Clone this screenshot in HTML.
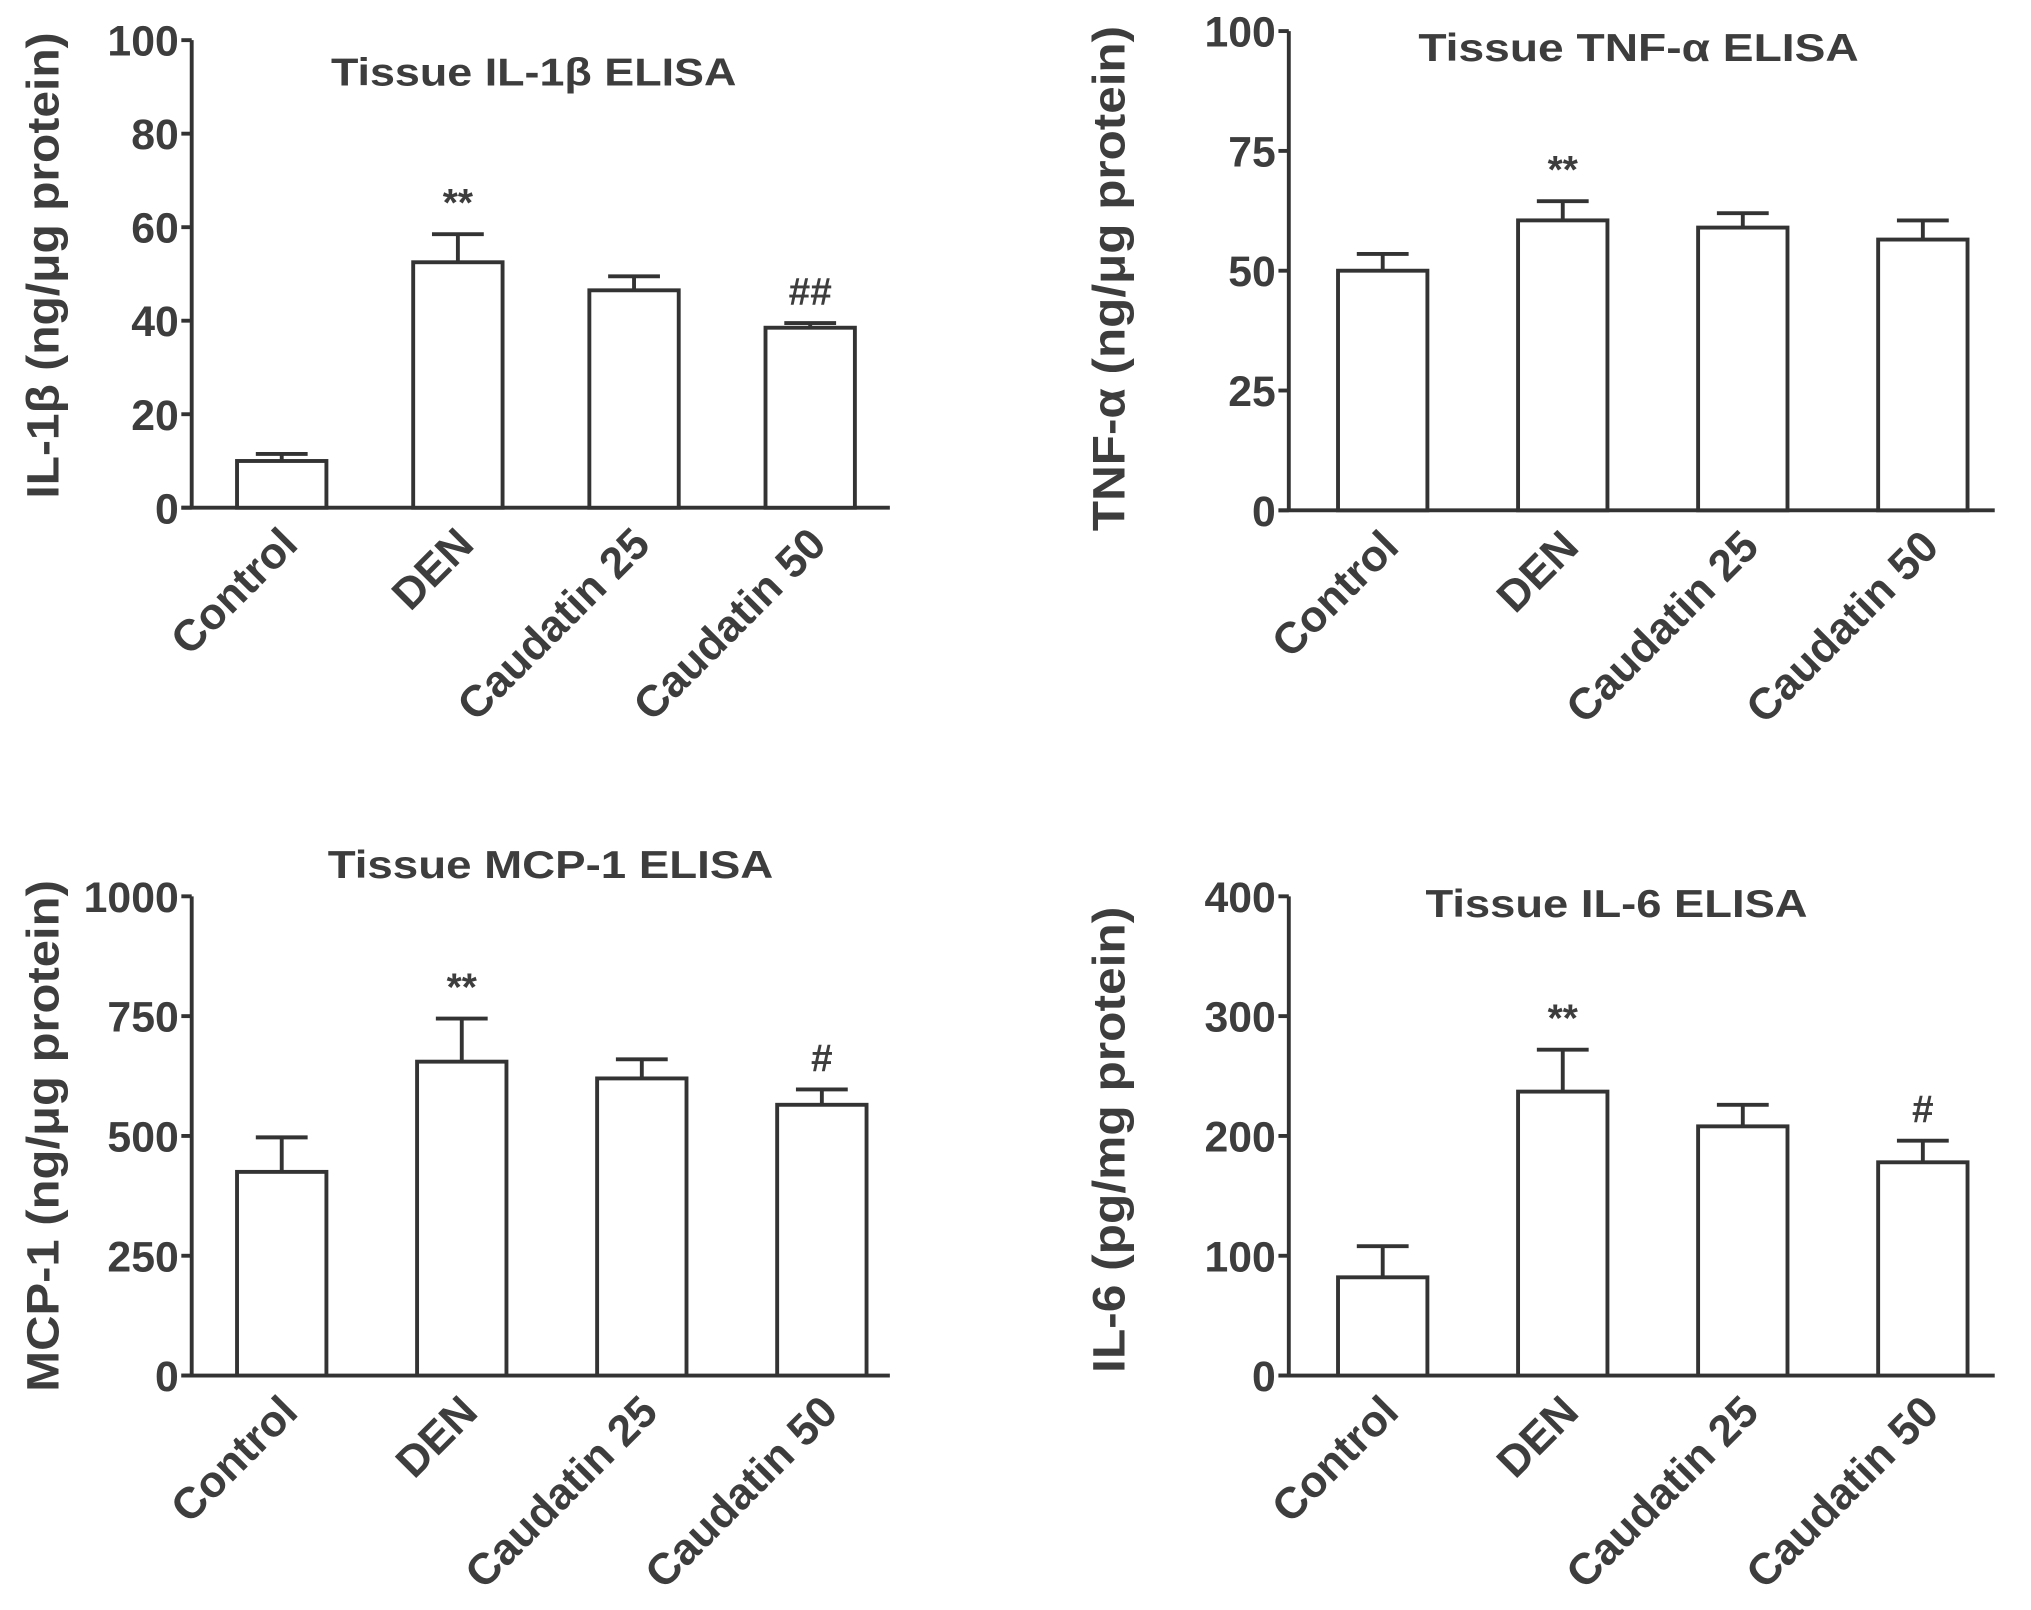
<!DOCTYPE html>
<html><head><meta charset="utf-8"><style>
html,body{margin:0;padding:0;background:#fff;}
svg{display:block;}
text{font-family:"Liberation Sans",sans-serif;fill:#3d3d3d;font-weight:bold;}
</style></head><body>
<svg id="fig" width="2031" height="1610" viewBox="0 0 1568 1243" preserveAspectRatio="none" xmlns="http://www.w3.org/2000/svg"></svg>
<script>
const categories = ["Control","DEN","Caudatin 25","Caudatin 50"];
const il1bMeans = [10, 52.5, 46.5, 38.5];
const il1bErr = [11.5, 58.5, 49.5, 39.5];
const il1bTicks = [0,20,40,60,80,100];
const il1bMarks = ["", "**", "", "##"];
const tnfMeans = [50, 60.5, 59, 56.5];
const tnfErr = [53.5, 64.5, 62, 60.5];
const tnfTicks = [0,25,50,75,100];
const tnfMarks = ["", "**", "", ""];
const mcpMeans = [425, 655, 620, 565];
const mcpErr = [497, 745, 660, 597];
const mcpTicks = [0,250,500,750,1000];
const mcpMarks = ["", "**", "", "#"];
const il6Means = [82, 237, 208, 178];
const il6Err = [108, 272, 226, 196];
const il6Ticks = [0,100,200,300,400];
const il6Marks = ["", "**", "", "#"];

const svg = document.getElementById('fig');
const NS = "http://www.w3.org/2000/svg";
function mk(tag, attrs, parent){const e=document.createElementNS(NS,tag);for(const k in attrs)e.setAttribute(k,attrs[k]);(parent||svg).appendChild(e);return e;}

function panel(cfg){
  const g = mk('g',{});
  
  
  const max = cfg.ticks[cfg.ticks.length-1];
  const y = v => cfg.y0 - (v/max)*(cfg.y0-cfg.yTop);
  const xs = i => cfg.bx0 + i*cfg.step;
  const st = {stroke:'#333','stroke-width':3,fill:'none'};
  const ya = mk('line',Object.assign({x1:cfg.ax,y1:cfg.yTop,x2:cfg.ax,y2:cfg.y0},st),g);
  
  
  const xa = mk('line',Object.assign({x1:cfg.ax-8,y1:cfg.y0,x2:cfg.xEnd,y2:cfg.y0},st),g);
  
  
  cfg.ticks.forEach(t=>{
    mk('line',Object.assign({x1:cfg.ax-8,y1:y(t),x2:cfg.ax,y2:y(t)},st),g);
    const tl = mk('text',{x:cfg.ax-10,y:y(t)+12,'text-anchor':'end','font-size':33},g);
    tl.textContent = t;
    
    
  });
  categories.forEach((c,i)=>{
    const x = xs(i), w = 69, cx = x+w/2;
    const ev = cfg.err[i];
    const el = mk('path',Object.assign({d:`M${cx} ${y(cfg.means[i])}V${y(ev)}M${cx-20} ${y(ev)}H${cx+20}`},st),g);
    
    
    const r = mk('rect',{x:x,y:y(cfg.means[i]),width:w,height:cfg.y0-y(cfg.means[i]),fill:'#fff',stroke:'#333','stroke-width':3},g);
    
    
    const ax = cx+14, ay = cfg.y0+30;
    const lt = mk('text',{x:ax,y:ay,'text-anchor':'end','font-size':34,transform:`rotate(-45 ${ax} ${ay})`},g);
    lt.textContent = c;
    
    
    if(cfg.marks[i]){
      const m = mk('text',{x:cx,y:y(ev)-14,'text-anchor':'middle','font-size':30,'font-weight':'normal'},g);
      m.textContent = cfg.marks[i];
      
      
    }
  });
  const tt = mk('text',{x:cfg.tx,y:cfg.ty,'text-anchor':'middle','font-size':30,textLength:cfg.tl,lengthAdjust:'spacingAndGlyphs','xml:space':'preserve'},g);
  tt.textContent = cfg.title;
  
  
  const yt = mk('text',{x:cfg.ylx,y:cfg.yly,'text-anchor':'middle','font-size':35,textLength:cfg.yll,lengthAdjust:'spacingAndGlyphs',transform:`rotate(-90 ${cfg.ylx} ${cfg.yly})`},g);
  yt.textContent = cfg.ylabel;
  
  
}
panel({name:'il1b-chart',means:il1bMeans,err:il1bErr,ticks:il1bTicks,marks:il1bMarks,ax:148,y0:392,yTop:31,xEnd:687,bx0:183,step:136,title:'Tissue IL-1β  ELISA',tx:412,ty:66,tl:313,ylabel:'IL-1β  (ng/μg protein)',ylx:45,yly:205,yll:360});
panel({name:'tnf-chart',means:tnfMeans,err:tnfErr,ticks:tnfTicks,marks:tnfMarks,ax:995,y0:394,yTop:24,xEnd:1540,bx0:1033,step:139,title:'Tissue TNF-α  ELISA',tx:1265,ty:47,tl:340,ylabel:'TNF-α  (ng/μg protein)',ylx:868,yly:215,yll:390});
panel({name:'mcp1-chart',means:mcpMeans,err:mcpErr,ticks:mcpTicks,marks:mcpMarks,ax:148,y0:1062,yTop:692,xEnd:687,bx0:183,step:139,title:'Tissue MCP-1 ELISA',tx:425,ty:678,tl:344,ylabel:'MCP-1 (ng/μg protein)',ylx:45,yly:877,yll:395});
panel({name:'il6-chart',means:il6Means,err:il6Err,ticks:il6Ticks,marks:il6Marks,ax:995,y0:1062,yTop:692,xEnd:1540,bx0:1033,step:139,title:'Tissue IL-6 ELISA',tx:1248,ty:708,tl:295,ylabel:'IL-6  (pg/mg protein)',ylx:868,yly:880,yll:360});
</script>
</body></html>
